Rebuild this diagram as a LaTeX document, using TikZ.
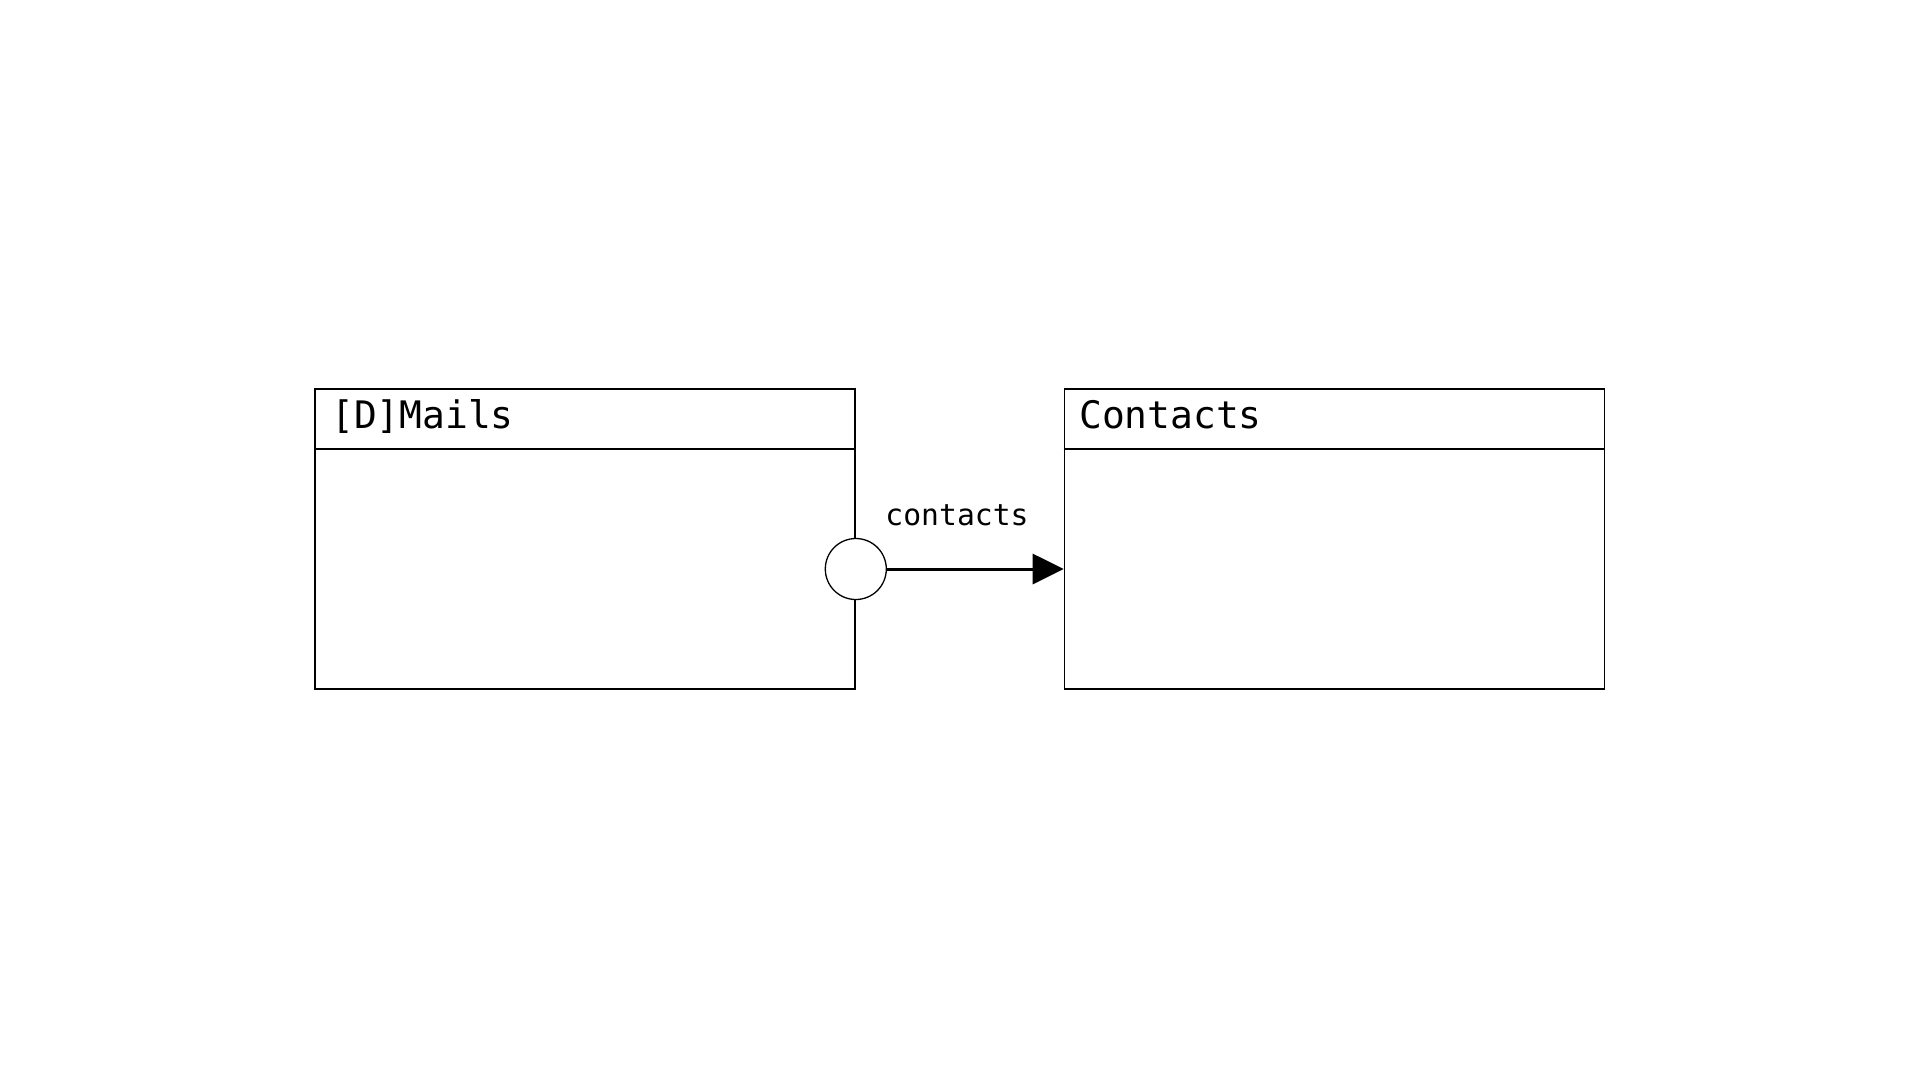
\documentclass[tikz,border=0pt]{standalone}
\usepackage{fontspec}
\setmonofont{DejaVu Sans Mono}
\usetikzlibrary{arrows.meta}
\begin{document}
\begin{tikzpicture}[x=1pt,y=-1pt,
  box/.style={draw, line width=1.6pt, minimum width=540pt, minimum height=300pt, inner sep=0pt},
  title/.style={anchor=base west, inner sep=0pt, font=\ttfamily\fontsize{37.9}{40}\selectfont},
  lbl/.style={anchor=base, inner sep=0pt, font=\ttfamily\fontsize{29.7}{32}\selectfont},
  port/.style={circle, draw, fill=white, minimum size=61pt, inner sep=0pt, line width=1.3pt}]
\useasboundingbox (0,0) rectangle (1920,1080);
\node[box] (mails) at (585,539) {};
\node[box] (contacts) at (1334.5,539) {};
\coordinate (hl) at (0,449);
\coordinate (pc) at (0,569);
\draw[line width=1.6pt] (mails.west |- hl) -- (mails.east |- hl);
\draw[line width=1.6pt] (contacts.west |- hl) -- (contacts.east |- hl);
\node[title] (t1) at (331,428) {[D]Mails};
\node[title] (t2) at (1079,428) {Contacts};
\node[port] (p) at (mails.east |- pc) {};
\draw[line width=3pt, -{Triangle[length=31pt,width=30pt]}] (p.east) -- (contacts.west |- p);
\node[lbl] (l) at (957,525) {contacts};
\end{tikzpicture}
\end{document}
